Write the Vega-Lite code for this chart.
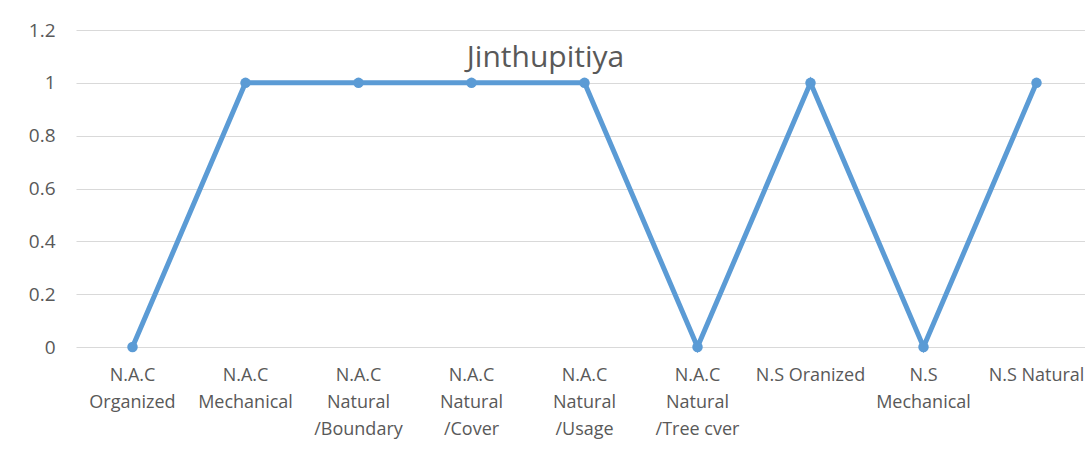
{
  "$schema": "https://vega.github.io/schema/vega-lite/v6.json",
  "autosize": "none",
  "width": 1009,
  "height": 317,
  "padding": {"left": 76, "top": 30, "right": 0, "bottom": 112},
  "background": "white",
  "title": {
    "text": "Jinthupitiya",
    "fontSize": 30,
    "font": "Open Sans",
    "fontWeight": "normal",
    "color": "#595959",
    "anchor": "middle",
    "baseline": "alphabetic",
    "offset": -76,
    "dx": -35
  },
  "data": {
    "values": [
      {"category": "N.A.C Organized", "value": 0},
      {"category": "N.A.C Mechanical", "value": 1},
      {"category": "N.A.C Natural /Boundary", "value": 1},
      {"category": "N.A.C Natural /Cover", "value": 1},
      {"category": "N.A.C Natural /Usage", "value": 1},
      {"category": "N.A.C Natural /Tree cver", "value": 0},
      {"category": "N.S Oranized", "value": 1},
      {"category": "N.S Mechanical", "value": 0},
      {"category": "N.S Natural", "value": 1}
    ]
  },
  "mark": {"type": "line", "color": "#5B9BD5", "strokeWidth": 5, "clip": false, "point": {"filled": true, "size": 110, "color": "#5B9BD5"}},
  "encoding": {
    "x": {
      "field": "category",
      "type": "nominal",
      "sort": null,
      "scale": {"type": "band", "range": [0, 1017], "paddingInner": 0, "paddingOuter": 0},
      "axis": {
        "title": null,
        "labelAngle": 0,
        "domain": false,
        "ticks": false,
        "grid": false,
        "labelPadding": 19,
        "labelFont": "Open Sans",
        "labelFontSize": 18,
        "labelColor": "#595959",
        "labelLineHeight": 27,
        "labelBaseline": "top",
        "labelLimit": 200,
        "labelExpr": "datum.label == 'N.S Oranized' || datum.label == 'N.S Natural' ? datum.label : datum.label == 'N.A.C Natural /Tree cver' ? ['N.A.C', 'Natural', '/Tree cver'] : split(datum.label, ' ')"
      }
    },
    "y": {
      "field": "value",
      "type": "quantitative",
      "scale": {"domain": [0, 1.2], "nice": false, "zero": true},
      "axis": {
        "title": null,
        "values": [0, 0.2, 0.4, 0.6, 0.8, 1, 1.2],
        "format": "~g",
        "domain": false,
        "ticks": false,
        "grid": true,
        "gridColor": "#d9d9d9",
        "gridWidth": 1,
        "labelPadding": 21,
        "labelFont": "Open Sans",
        "labelFontSize": 19,
        "labelColor": "#595959"
      }
    }
  },
  "config": {"view": {"stroke": null}}
}
